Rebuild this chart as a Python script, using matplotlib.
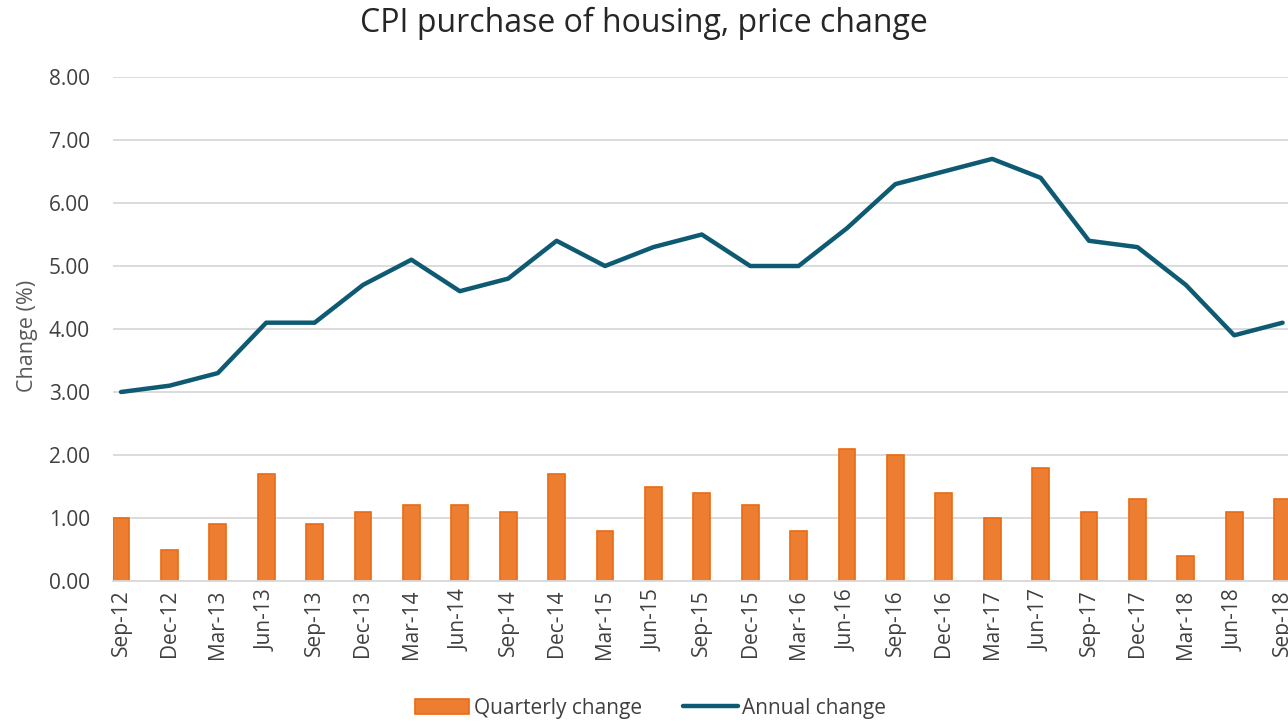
import numpy as np
import matplotlib.pyplot as plt

quarters = ["Sep-12", "Dec-12", "Mar-13", "Jun-13", "Sep-13", "Dec-13", "Mar-14",
            "Jun-14", "Sep-14", "Dec-14", "Mar-15", "Jun-15", "Sep-15", "Dec-15",
            "Mar-16", "Jun-16", "Sep-16", "Dec-16", "Mar-17", "Jun-17", "Sep-17",
            "Dec-17", "Mar-18", "Jun-18", "Sep-18"]
quarterly_change = [1.0, 0.5, 0.9, 1.7, 0.9, 1.1, 1.2, 1.2, 1.1, 1.7, 0.8, 1.5, 1.4,
                    1.2, 0.8, 2.1, 2.0, 1.4, 1.0, 1.8, 1.1, 1.3, 0.4, 1.1, 1.3]
annual_change = [3.0, 3.1, 3.3, 4.1, 4.1, 4.7, 5.1, 4.6, 4.8, 5.4, 5.0, 5.3, 5.5,
                 5.0, 5.0, 5.6, 6.3, 6.5, 6.7, 6.4, 5.4, 5.3, 4.7, 3.9, 4.1]

plt.rcParams['font.family'] = ['Open Sans', 'DejaVu Sans']

fig = plt.figure(figsize=(12.88, 7.21), dpi=100)
ax = fig.add_axes([113 / 1288, 140 / 721, 1175 / 1288, 504 / 721])

x = np.arange(len(quarters))
bars = ax.bar(x, quarterly_change, width=0.35, color='#ED7D31', edgecolor='#EB6A12',
              linewidth=1.2, label='Quarterly change', zorder=2)
line, = ax.plot(x, annual_change, color='#0E5A73', linewidth=3.2, solid_capstyle='round',
                label='Annual change', zorder=3)

ax.set_ylim(0, 8)
ax.set_yticks(np.arange(0, 8.01, 1))
ax.set_yticklabels([f"{v:.2f}" for v in np.arange(0, 8.01, 1)])
ax.set_xlim(-8 / 48.4, (1288 - 121) / 48.4)
ax.set_xticks(x)
ax.set_xticklabels(quarters, rotation=90)

ax.grid(axis='y', color='#D9D9D9', linewidth=1.3, zorder=0)
ax.set_axisbelow(True)
for s in ['top', 'right', 'left']:
    ax.spines[s].set_visible(False)
ax.spines['bottom'].set_color('#D9D9D9')
ax.spines['bottom'].set_linewidth(1.3)
ax.tick_params(axis='both', length=0, labelsize=15, colors='#404040')
ax.tick_params(axis='y', pad=16.5)
ax.tick_params(axis='x', pad=6)

ax.set_ylabel("Change (%)", fontsize=15.5, color='#595959')
ax.yaxis.set_label_coords(-0.064, 0.486)

fig.text(0.5, 0.968, "CPI purchase of housing, price change", ha='center', va='center',
         fontsize=23, color='#262626')

fig.legend([bars, line], ['Quarterly change', 'Annual change'], loc='center',
           bbox_to_anchor=(0.505, 0.018), ncol=2, frameon=False,
           fontsize=15, handlelength=2.6, handletextpad=0.2, columnspacing=2.0,
           labelcolor='#404040')

fig.savefig("out.png", dpi=100)
